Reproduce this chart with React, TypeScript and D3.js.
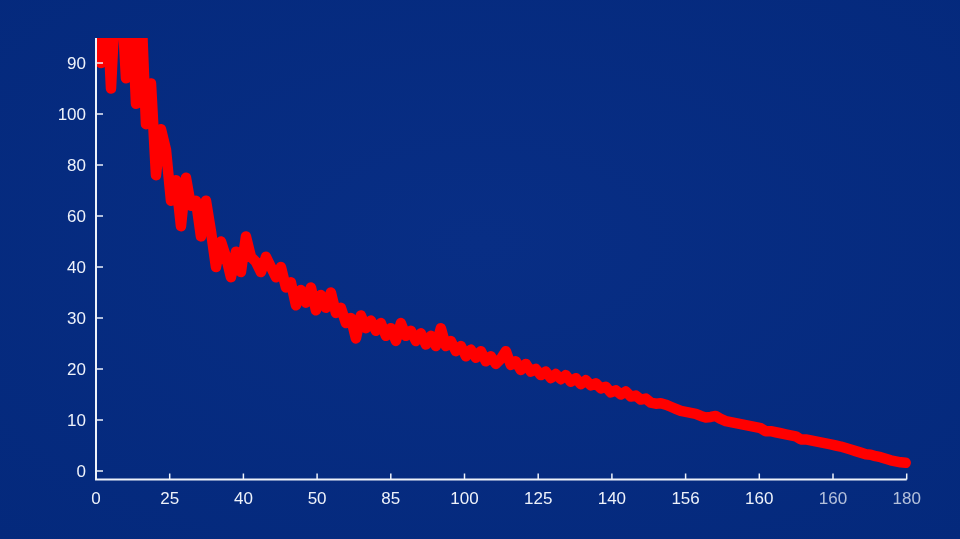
import React from "react";
import * as d3 from "d3";

const yTickLabels = ["0", "10", "20", "30", "40", "60", "80", "100", "90"];
const xTickLabels = ["0", "25", "40", "50", "85", "100", "125", "140", "156", "160", "160", "180"];

// values in axis-position units (each y tick = 10 units)
const seriesValues = [
  92, 80, 95, 75, 95, 95, 77, 95, 72, 92,
  68, 76, 58, 67, 63, 53, 57, 48, 57.5, 52,
  53, 46, 53, 47, 40, 45, 42, 38, 43, 39,
  46, 42, 41, 39, 42, 40, 38, 40, 36, 37,
  32.5, 35.5, 33, 36, 31.5, 34.5, 32, 35, 31, 32,
  29, 30, 26, 30.5, 28, 29.5, 27.5, 29, 26.5, 28,
  25.5, 29, 26.5, 27.5, 25.5, 27, 24.8, 26.5, 24.5, 28,
  24.5, 25.5, 23.5, 24.5, 22.5, 23.8, 22.2, 23.5, 21.5, 22.5,
  21, 22, 23.5, 20.8, 21.5, 19.8, 21, 19.5, 20, 18.8,
  19.5, 18.2, 19, 18, 18.8, 17.5, 18.2, 17, 17.8, 16.8,
  17.2, 16.2, 16.5, 15.4, 15.8, 15, 15.6, 14.6, 14.8, 14,
  14.2, 13.4, 13.2, 13.3, 13, 12.6, 12.2, 11.8, 11.6, 11.4,
  11.2, 10.8, 10.5, 10.6, 10.8, 10.2, 9.8, 9.6, 9.4, 9.2,
  9, 8.8, 8.6, 8.4, 7.8, 7.8, 7.6, 7.4, 7.2, 7,
  6.8, 6.2, 6.2, 6, 5.8, 5.6, 5.4, 5.2, 5, 4.8,
  4.5, 4.2, 3.9, 3.6, 3.3, 3.2, 2.9, 2.7, 2.4, 2.1,
  1.9, 1.7, 1.6,
];

export default function App() {
  const W = 960, H = 539;
  const left = 96, right = 906.7, axisY = 479.5, top = 38;
  const y = d3.scaleLinear().domain([0, 80]).range([471, 63]);
  const xTick = d3.scaleLinear().domain([0, xTickLabels.length - 1]).range([left, right]);
  const xIdx = d3.scaleLinear().domain([0, seriesValues.length - 1]).range([left, right - 1]);
  const line = d3
    .line<number>()
    .x((_, i) => xIdx(i))
    .y((d) => y(d))
    .curve(d3.curveLinear);
  const axisColor = "#eef2fa";
  const font = "'Liberation Sans', Arial, sans-serif";
  return (
    <div style={{ position: "fixed", left: 0, top: 0, width: W, height: H }}>
      <svg width={W} height={H} style={{ display: "block" }}>
        <defs>
          <radialGradient id="bg" cx="50%" cy="45%" r="75%">
            <stop offset="0%" stopColor="#082e85" />
            <stop offset="100%" stopColor="#04297c" />
          </radialGradient>
          <clipPath id="plotClip">
            <rect x={left} y={top} width={W - left} height={axisY - top} />
          </clipPath>
        </defs>
        <rect width={W} height={H} fill="url(#bg)" />
        <g clipPath="url(#plotClip)">
          <path
            d={line(seriesValues) || ""}
            fill="none"
            stroke="#ff0000"
            strokeWidth={10.5}
            strokeLinejoin="round"
            strokeLinecap="round"
          />
        </g>
        {/* y axis */}
        <line x1={left} x2={left} y1={top} y2={axisY} stroke={axisColor} strokeWidth={2} />
        {yTickLabels.map((lab, k) => (
          <g key={"y" + k}>
            <line x1={left} x2={left + 7} y1={y(k * 10)} y2={y(k * 10)} stroke={axisColor} strokeWidth={1.5} />
            <text
              x={86}
              y={y(k * 10)}
              dy="0.36em"
              textAnchor="end"
              fill={axisColor}
              fontSize={17}
              fontFamily={font}
            >
              {lab}
            </text>
          </g>
        ))}
        {/* x axis */}
        <line x1={left - 1} x2={right} y1={axisY} y2={axisY} stroke={axisColor} strokeWidth={2} />
        {xTickLabels.map((lab, k) => (
          <g key={"x" + k}>
            <line x1={xTick(k)} x2={xTick(k)} y1={axisY} y2={axisY - 6} stroke={axisColor} strokeWidth={1.5} />
            <text
              x={xTick(k)}
              y={503.5}
              textAnchor="middle"
              fill={axisColor}
              fontSize={17}
              fontFamily={font}
              opacity={k >= 10 ? 0.75 : 1}
            >
              {lab}
            </text>
          </g>
        ))}
      </svg>
    </div>
  );
}
